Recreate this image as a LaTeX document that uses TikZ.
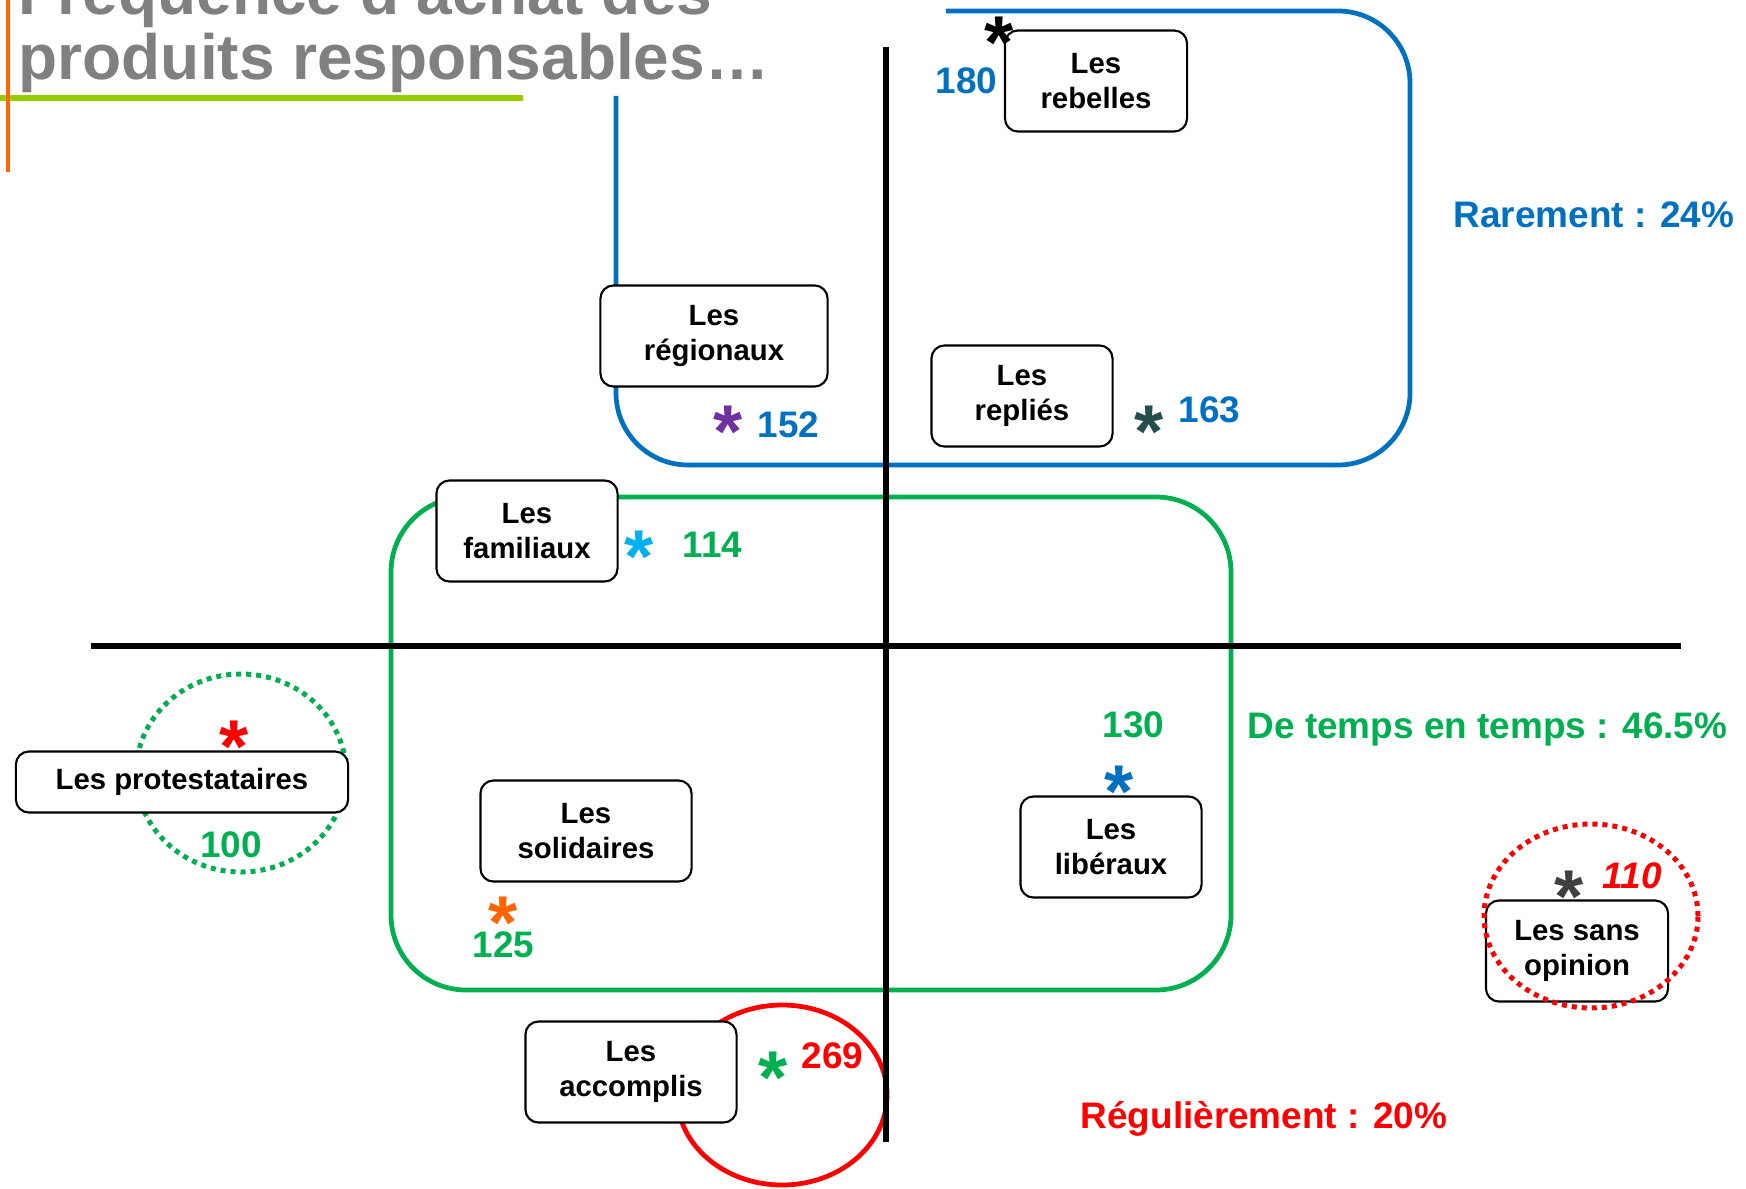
\documentclass[tikz,border=0pt]{standalone}
\usepackage{fontspec}
\setmainfont{Liberation Sans}
\usetikzlibrary{positioning}
\definecolor{rareblue}{HTML}{0070C0}
\definecolor{tempsgreen}{HTML}{00B050}
\definecolor{regulred}{HTML}{FF0000}
\definecolor{titlegray}{HTML}{808080}
\definecolor{barorange}{HTML}{FF6600}
\definecolor{barlime}{HTML}{99CC00}
\definecolor{starpurple}{HTML}{7030A0}
\definecolor{starcyan}{HTML}{00B0F0}
\definecolor{starteal}{HTML}{264D4D}
\definecolor{stargray}{HTML}{404040}
\newcommand{\boxfont}{\fontsize{8.34}{9.8}\selectfont\bfseries}
\newcommand{\numfont}{\fontsize{10.5}{12}\selectfont\bfseries}
\newcommand{\starfont}{\fontsize{21.3}{24}\selectfont\bfseries}
\newcommand{\titlefont}{\fontsize{18.2}{18.8}\selectfont\bfseries}
\tikzstyle{seg} = [draw=black, line width=0.6pt, fill=white, rounded corners=0.13cm, align=center, font=\boxfont, inner sep=0pt, minimum height=1.01cm]
\tikzstyle{num} = [font=\numfont, inner sep=0pt]
\tikzstyle{star} = [font=\starfont, inner sep=0pt, anchor=north, yshift=0.07cm]

\begin{document}
\begin{tikzpicture}[x=0.01cm, y=0.01cm,
  group/.style={line width=1.35pt},
  ring/.style={line width=1.42pt, dash pattern=on 0.05cm off 0.05cm},
  axis/.style={line width=1.55pt, black},
  title/.style={font=\titlefont, text=titlegray, inner sep=0pt, anchor=base west}]
\useasboundingbox (0,0) rectangle (1746,-1188);

% Title
\draw[barlime, line width=1.7pt] (0,-98) -- (523,-98);
\draw[barorange, line width=1.2pt] (8,0) -- (8,-172);
\node[title] (titleA) at (18,-15) {Fréquence d’achat des};
\node[title] (titleB) at (18,-80) {produits responsables…};

% Groups
\draw[ring, tempsgreen] (241,-773) ellipse [x radius=105, y radius=99];
\draw[group, regulred] (782,-1095) ellipse [x radius=105, y radius=90];
\draw[group, tempsgreen, rounded corners=0.75cm] (391,-497) rectangle (1231,-990);
\draw[group, rareblue, rounded corners=0.72cm] (946,-11) -- (1410,-11) -- (1410,-465) -- (616,-465) -- (616,-96);

% Axes
\draw[axis] (886,-47) -- (886,-1142);
\draw[axis] (91,-646) -- (1681,-646);

% Define nodes
\node[seg, minimum width=1.82cm] (rebelles)   at (1096,-81)   {Les\\rebelles};
\node[seg, minimum width=2.27cm] (regionaux)  at (714,-336)   {Les\\régionaux};
\node[seg, minimum width=1.81cm] (replies)    at (1022,-396)  {Les\\repliés};
\node[seg, minimum width=1.81cm] (familiaux)  at (527,-531)   {Les\\familiaux};
\node[seg, minimum width=3.32cm, minimum height=0.61cm] (protest) at (182,-782) {Les protestataires};
\node[seg, minimum width=2.11cm] (solidaires) at (586,-831)   {Les\\solidaires};
\node[seg, minimum width=1.81cm] (liberaux)   at (1111,-847)  {Les\\libéraux};
\node[seg, minimum width=1.82cm] (sansop)     at (1577,-951)  {Les sans\\opinion};
\node[seg, minimum width=2.11cm] (accomplis)  at (631,-1072)  {Les\\accomplis};

\draw[ring, regulred] (1591,-916) ellipse [x radius=107, y radius=92];

% Scores
\node[num, text=rareblue, left=0.06cm of rebelles]  (nRebelles)  {180};
\node[num, text=rareblue, anchor=base west]  (nRegionaux) at (757,-437)  {152};
\node[num, text=rareblue, anchor=base west]  (nReplies)   at (1178,-422) {163};
\node[num, text=tempsgreen, anchor=base west] (nFamiliaux) at (682,-557) {114};
\node[num, text=tempsgreen, anchor=base]      (nProtest)   at (231,-857) {100};
\node[num, text=tempsgreen, anchor=base west] (nSolid)     at (472,-957) {125};
\node[num, text=tempsgreen, anchor=base west] (nLiberaux)  at (1102,-737) {130};
\node[num, text=regulred, anchor=base west]   (nAccomplis) at (801,-1068) {269};
\node[num, text=regulred, anchor=base west, font=\numfont\itshape] (nSansop) at (1602,-888) {110};

% Stars
\node[star, text=black]      (sRebelles)  at (999,-23)   {*};
\node[star, text=starpurple] (sRegionaux) at (728,-412)  {*};
\node[star, text=starteal]   (sReplies)   at (1149,-412) {*};
\node[star, text=starcyan]   (sFamiliaux) at (639,-537)  {*};
\node[star, text=regulred]   (sProtest)   at (234,-727)  {*};
\node[star, text=barorange]  (sSolid)     at (503,-903)  {*};
\node[star, text=rareblue]   (sLiberaux)  at (1119,-772) {*};
\node[star, text=tempsgreen] (sAccomplis) at (773,-1058) {*};
\node[star, text=stargray]   (sSansop)    at (1569,-877) {*};

% Legend
\node[num, text=rareblue, anchor=base west]   (lRare)   at (1453,-227)  {Rarement : 24\%};
\node[num, text=tempsgreen, anchor=base west] (lTemps)  at (1247,-738)  {De temps en temps : 46.5\%};
\node[num, text=regulred, anchor=base west]   (lRegul)  at (1080,-1128) {Régulièrement : 20\%};
\end{tikzpicture}
\end{document}
